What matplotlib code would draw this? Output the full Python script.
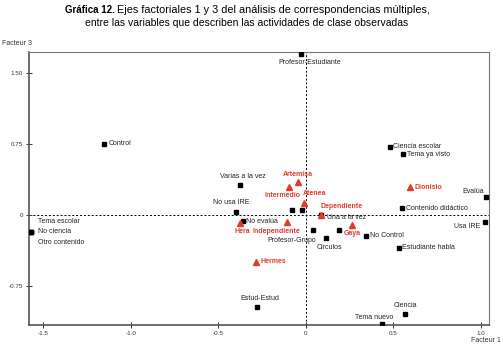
import matplotlib
matplotlib.use("Agg")
import matplotlib.pyplot as plt

# ---- data ----
sq_labels = ["Control", "Profesor-Estudiante", "Varias a la vez", "No usa IRE", "", "",
             "No evalúa", "Profesor-Grupo", "Circulos", "", "Una a la vez", "No Control",
             "Estudiante habla", "Contenido didáctico", "Usa IRE", "Evalúa",
             "Ciencia escolar", "Tema ya visto", "Ciencia", "Tema nuevo", "Estud-Estud",
             "No ciencia", "Tema escolar", "Otro contenido"]
sq_x = [-1.151, -0.029, -0.379, -0.400, -0.082, -0.021,
        -0.361, 0.042, 0.114, 0.190, 0.086, 0.346,
        0.529, 0.546, 1.022, 1.029,
        0.481, 0.554, 0.567, 0.436, -0.281,
        -1.570, -1.570, -1.570]
sq_y = [0.750, 1.697, 0.314, 0.035, 0.053, 0.056,
        -0.067, -0.162, -0.243, -0.158, -0.003, -0.222,
        -0.345, 0.071, -0.077, 0.193,
        0.718, 0.641, -1.042, -1.148, -0.968,
        -0.180, -0.180, -0.180]

tri_labels = ["Artemisa", "Intermedio", "Atenea", "Dependiente", "Hera",
              "Independiente", "Gaya", "Hermes", "Dionisio"]
tri_x = [-0.046, -0.095, -0.010, 0.086, -0.379, -0.110, 0.266, -0.287, 0.596]
tri_y = [0.352, 0.299, 0.130, -0.003, -0.088, -0.077, -0.109, -0.493, 0.292]

xticks = [-1.5, -1.0, -0.5, 0, 0.5, 1.0]
xticklabels = ["-1.5", "-1.0", "-0.5", "0", "0.5", "1.0"]
yticks = [1.5, 0.75, 0, -0.75]
yticklabels = ["1.50", "0.75", "0", "-0.75"]

# ---- label placement (pixel offsets: dx right, dy down; ha) ----
place = {
    "Control": (4, 0, "left"),
    "Profesor-Estudiante": (9, 8, "center"),
    "Varias a la vez": (3, -9, "center"),
    "No usa IRE": (-5, -9, "center"),
    "No evalúa": (3, 0, "left"),
    "Profesor-Grupo": (-22, 10, "center"),
    "Circulos": (4, 10, "center"),
    "Una a la vez": (6, 2, "left"),
    "No Control": (4, 0, "left"),
    "Estudiante habla": (3, 0, "left"),
    "Contenido didáctico": (4, 0, "left"),
    "Usa IRE": (-5, 4, "right"),
    "Evalúa": (-2, -5, "right"),
    "Ciencia escolar": (3, 0, "left"),
    "Tema ya visto": (4, 0, "left"),
    "Ciencia": (0, -8, "center"),
    "Tema nuevo": (-8, -6, "center"),
    "Estud-Estud": (3, -8, "center"),
    "No ciencia": (7, 0, "left"),
    "Tema escolar": (7, -10, "left"),
    "Otro contenido": (7, 11, "left"),
    "Artemisa": (0, -7, "center"),
    "Intermedio": (-7, 9, "center"),
    "Atenea": (10, -9, "center"),
    "Dependiente": (21, -9, "center"),
    "Hera": (3, 8, "center"),
    "Independiente": (-10, 9, "center"),
    "Gaya": (0, 8, "center"),
    "Hermes": (5, 0, "left"),
    "Dionisio": (4, 0, "left"),
}

FONT = ["Liberation Sans", "DejaVu Sans"]
plt.rcParams["font.family"] = FONT
RED = "#e23b2e"

fig = plt.figure(figsize=(5.03, 3.47), dpi=100)
ax = fig.add_axes([0.057, 0.0625, 0.915, 0.789])
ax.set_xlim(-1.583, 1.045)
ax.set_ylim(-1.165, 1.724)

ax.axhline(0, color="black", lw=0.7, ls=(0, (2, 2)), zorder=1)
ax.axvline(0, color="black", lw=0.7, ls=(0, (2, 2)), zorder=1)

ax.plot(sq_x, sq_y, ls="none", marker="s", ms=2.2, color="black", zorder=3)
ax.plot(tri_x, tri_y, ls="none", marker="^", ms=5, color=RED, mec=RED, zorder=4)

for lab, x, y in zip(sq_labels, sq_x, sq_y):
    if not lab:
        continue
    dx, dy, ha = place[lab]
    ax.annotate(lab, (x, y), xytext=(dx, -dy), textcoords="offset pixels",
                ha=ha, va="center", fontsize=5, color="#222222", zorder=5)
for lab, x, y in zip(tri_labels, tri_x, tri_y):
    dx, dy, ha = place[lab]
    ax.annotate(lab, (x, y), xytext=(dx, -dy), textcoords="offset pixels",
                ha=ha, va="center", fontsize=5, color=RED, fontweight="bold", zorder=5)

ax.set_xticks(xticks)
ax.set_xticklabels(xticklabels)
ax.set_yticks(yticks)
ax.set_yticklabels(yticklabels)
ax.tick_params(direction="inout", length=4, width=0.7, labelsize=4.5, colors="#333333", pad=2)

for s in ["left", "bottom"]:
    ax.spines[s].set_color("#555555")
    ax.spines[s].set_linewidth(1.2)
for s in ["top", "right"]:
    ax.spines[s].set_color("#777777")
    ax.spines[s].set_linewidth(0.8)

fig.text(0.004, 0.876, "Facteur 3", fontsize=5, color="#333333", ha="left", va="center")
fig.text(0.995, 0.02, "Facteur 1", fontsize=5, color="#333333", ha="right", va="center")

fig.text(115 / 503, 1 - 10 / 347, "Gráfica 12.", fontsize=7.0, fontweight="bold",
         ha="right", va="center")
fig.text(117 / 503, 1 - 10 / 347, "Ejes factoriales 1 y 3 del análisis de correspondencias múltiples,",
         fontsize=7.85, ha="left", va="center")
fig.text(247 / 503, 1 - 23 / 347, "entre las variables que describen las actividades de clase observadas",
         fontsize=7.5, ha="center", va="center")

fig.savefig("out.png", dpi=100)
